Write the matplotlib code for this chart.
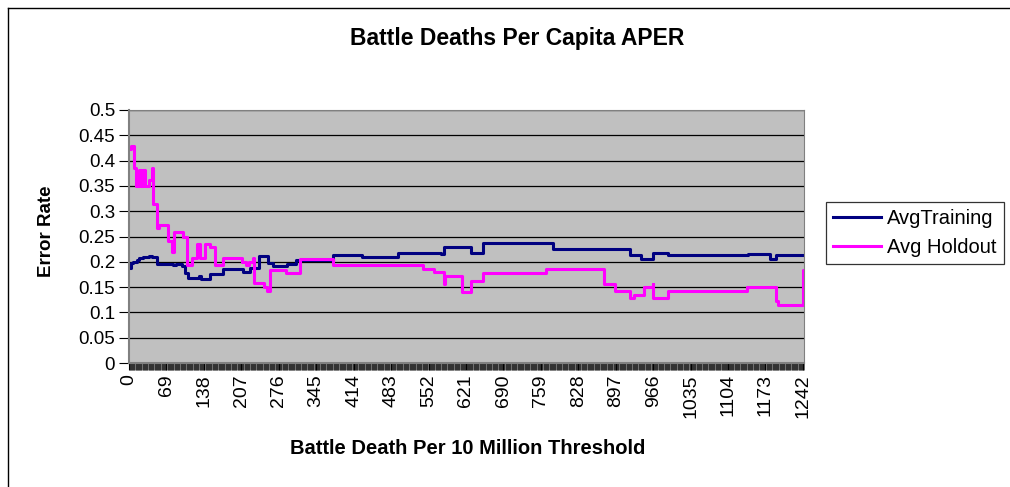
import numpy as np
import matplotlib
matplotlib.use("Agg")
import matplotlib.pyplot as plt
from matplotlib.lines import Line2D

plt.rcParams['font.family'] = ['Liberation Sans', 'DejaVu Sans']

# Step breakpoints (threshold, error rate)
training_x = [0, 3, 8, 14, 19, 25, 36, 43, 51, 82, 87, 97, 103, 108, 129, 132, 150,
              174, 211, 223, 239, 257, 265, 291, 307, 376, 429, 496, 575, 580, 631,
              653, 782, 895, 923, 944, 966, 993, 1141, 1182, 1193, 1244]
training_y = [0.187, 0.197, 0.200, 0.204, 0.207, 0.210, 0.212, 0.209, 0.195, 0.193,
              0.195, 0.191, 0.178, 0.168, 0.171, 0.166, 0.176, 0.186, 0.179, 0.187,
              0.212, 0.197, 0.191, 0.196, 0.204, 0.214, 0.210, 0.218, 0.216, 0.229,
              0.218, 0.237, 0.226, 0.225, 0.214, 0.205, 0.218, 0.214, 0.216, 0.205,
              0.214, 0.214]

holdout_x = [0, 3, 9, 13, 19, 23, 26, 30, 37, 42, 44, 51, 56, 71, 80, 83, 99, 106,
             117, 126, 130, 140, 150, 158, 174, 209, 216, 222, 228, 230, 249, 255,
             260, 289, 316, 376, 542, 562, 581, 583, 613, 631, 653, 768, 875, 895,
             923, 930, 949, 965, 966, 993, 1139, 1192, 1196, 1243, 1244]
holdout_y = [0.422, 0.428, 0.385, 0.349, 0.381, 0.349, 0.381, 0.349, 0.362, 0.385,
             0.314, 0.266, 0.272, 0.242, 0.220, 0.258, 0.250, 0.193, 0.207, 0.235,
             0.207, 0.235, 0.229, 0.193, 0.207, 0.200, 0.193, 0.200, 0.207, 0.158,
             0.150, 0.142, 0.184, 0.178, 0.206, 0.193, 0.186, 0.179, 0.157, 0.171,
             0.141, 0.163, 0.178, 0.186, 0.157, 0.143, 0.128, 0.135, 0.150, 0.157,
             0.128, 0.143, 0.150, 0.122, 0.114, 0.184, 0.184]

n_cats = 1245
tick_labels = list(range(0, 1243, 69))

fig = plt.figure(figsize=(10.1, 4.87), dpi=100)
ax = fig.add_axes([129 / 1010, 1 - 363 / 487, (804 - 129) / 1010, (363 - 110) / 487])
ax.set_facecolor('#c0c0c0')

ax.plot(training_x, training_y, drawstyle='steps-post', color='#000080', lw=2.2)
ax.plot(holdout_x, holdout_y, drawstyle='steps-post', color='#ff00ff', lw=2.2)

ax.set_xlim(0, n_cats - 1)
ax.set_ylim(0, 0.5)
ax.set_yticks(np.arange(0, 0.501, 0.05))
ax.set_yticklabels(['0', '0.05', '0.1', '0.15', '0.2', '0.25', '0.3', '0.35',
                    '0.4', '0.45', '0.5'])
ax.set_xticks(tick_labels)
ax.set_xticklabels([str(t) for t in tick_labels], rotation=90)
ax.set_xticks(np.arange(0, n_cats), minor=True)
ax.tick_params(axis='x', which='minor', length=5, width=0.4, color='black')
ax.tick_params(axis='x', which='major', length=5, width=0.8, labelsize=14, pad=3)
ax.tick_params(axis='y', length=7, width=0.8, labelsize=13.5, pad=3)
ax.grid(axis='y', color='black', lw=0.9)
ax.set_axisbelow(True)
for s in ['top', 'right', 'left', 'bottom']:
    ax.spines[s].set_color('#808080')
ax.spines['left'].set_linewidth(1.5)
ax.spines['bottom'].set_linewidth(1.5)

fig.text(0.512, 0.92, 'Battle Deaths Per Capita APER', ha='center', va='center',
         fontsize=16.5, fontweight='bold')
fig.text(0.046, 0.526, 'Error Rate', ha='center', va='center', rotation=90,
         fontsize=13.5, fontweight='bold')
fig.text(0.463, 0.08, 'Battle Death Per 10 Million Threshold', ha='center',
         va='center', fontsize=14.5, fontweight='bold')

handles = [Line2D([], [], color='#000080', lw=2.2), Line2D([], [], color='#ff00ff', lw=2.2)]
leg = fig.legend(handles, ['AvgTraining', 'Avg Holdout'], loc='upper left',
                 bbox_to_anchor=(826 / 1010, 1 - 202 / 487), fontsize=14.5,
                 frameon=True, fancybox=False, edgecolor='black', borderpad=0.35,
                 handlelength=2.4, handletextpad=0.3, labelspacing=0.5,
                 borderaxespad=0)
leg.get_frame().set_linewidth(0.9)

# outer chart frame
fig.add_artist(Line2D([7.5 / 1010, 1], [1 - 7.5 / 487, 1 - 7.5 / 487], color='black', lw=1))
fig.add_artist(Line2D([7.5 / 1010, 7.5 / 1010], [0, 1 - 7.5 / 487], color='black', lw=1))

fig.savefig('out.png', dpi=100)
